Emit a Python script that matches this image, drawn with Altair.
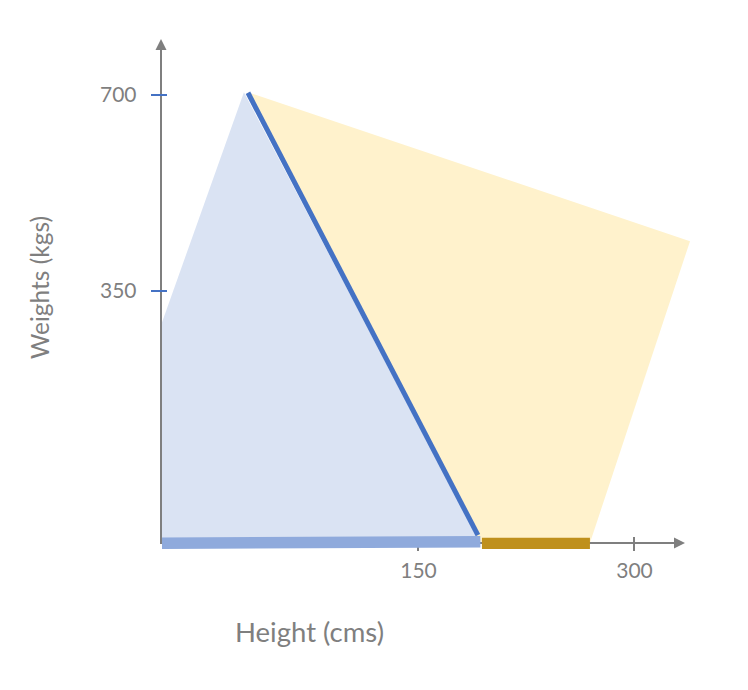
import altair as alt
import pandas as pd

# ---- data ----
x_ticks = [150, 300]
y_ticks = [350, 700]

blue_poly_x = [-28.5, -28.5, 29.1, 192.3, -28.5]
blue_poly_y = [-100, 289, 705, -95, -100]
yellow_poly_x = [31.9, 338.9, 269.4, 193.7, 31.9]
yellow_poly_y = [705, 439, -100, -100, 705]
diag_x = [31.9, 191.6]
diag_y = [704, -86]
blue_bar_x = [-27.8, 193.3]
blue_bar_y = [-100.5, -97.7]
gold_bar_x = [194.4, 269.4]
gold_bar_y = [-100.5, -100.5]

X_DOMAIN = [-28.5, 338.9]
Y_DOMAIN = [-100, 800]
W, H = 529, 504

GRAY = "#7F7F7F"
FONT = "Lato"

xs = alt.Scale(domain=X_DOMAIN, nice=False, zero=False)
ys = alt.Scale(domain=Y_DOMAIN, nice=False, zero=False)

x_axis = alt.Axis(values=x_ticks, title="Height (cms)", labelPadding=17,
                  titleX=148, titleY=90, titleBaseline="middle", titleAlign="center",
                  titleFontSize=27.5)
y_axis = alt.Axis(values=y_ticks, title="Weights (kgs)", labelPadding=25,
                  titleX=-120, titleY=248, titleBaseline="middle", titleAlign="center",
                  titleAngle=270, titleFontSize=24.5)


def xenc():
    return alt.X("x:Q", scale=xs, axis=x_axis)


def yenc():
    return alt.Y("y:Q", scale=ys, axis=y_axis)


def path_layer(xv, yv, **mark):
    df = pd.DataFrame({"i": list(range(len(xv))), "x": xv, "y": yv})
    return alt.Chart(df).mark_line(**mark).encode(x=xenc(), y=yenc(), order="i:Q")


dummy = pd.DataFrame({"a": [0]})

blue_poly = path_layer(blue_poly_x, blue_poly_y, fill="#DAE3F3", stroke="#DAE3F3",
                       strokeOpacity=0, fillOpacity=1)
yellow_poly = path_layer(yellow_poly_x, yellow_poly_y, fill="#FFF2CC", stroke="#FFF2CC",
                         strokeOpacity=0, fillOpacity=1)

y_axis_line = alt.Chart(dummy).mark_rule(color=GRAY, strokeWidth=2).encode(
    x=alt.value(0), y=alt.value(11), y2=alt.value(H + 1))
x_axis_line = alt.Chart(dummy).mark_rule(color=GRAY, strokeWidth=2).encode(
    x=alt.value(0), x2=alt.value(513), y=alt.value(H))

up_arrow = alt.Chart(dummy).mark_point(shape="M0,0L-1,2L1,2Z", size=121, filled=True,
                                       fill=GRAY, strokeWidth=0, opacity=1).encode(
    x=alt.value(0), y=alt.value(0))
right_arrow = alt.Chart(dummy).mark_point(shape="M0,0L-2,-1L-2,1Z", size=121, filled=True,
                                          fill=GRAY, strokeWidth=0, opacity=1).encode(
    x=alt.value(524), y=alt.value(H))

y_tick_marks = alt.Chart(pd.DataFrame({"y": y_ticks})).mark_rule(
    color="#4472C4", strokeWidth=2).encode(y=yenc(), x=alt.value(-10), x2=alt.value(6))
x_tick_marks = alt.Chart(pd.DataFrame({"x": x_ticks})).mark_rule(
    color=GRAY, strokeWidth=2).encode(x=xenc(), y=alt.value(H - 6), y2=alt.value(H + 8))

diag = path_layer(diag_x, diag_y, color="#4472C4", strokeWidth=5)
blue_bar = path_layer(blue_bar_x, blue_bar_y, color="#8FAADC", strokeWidth=11.5)
gold_bar = path_layer(gold_bar_x, gold_bar_y, color="#BF901C", strokeWidth=11.3)

chart = alt.layer(
    blue_poly, yellow_poly, y_axis_line, x_axis_line, up_arrow, right_arrow,
    y_tick_marks, x_tick_marks, diag, blue_bar, gold_bar
).properties(
    width=W, height=H,
    autosize=alt.AutoSizeParams(type="none"),
    padding={"left": 153, "top": 31, "right": 50, "bottom": 139},
).configure_axis(
    grid=False, domain=False, ticks=False,
    labelFont=FONT, labelFontSize=21, labelColor=GRAY,
    titleFont=FONT, titleColor=GRAY, titleFontWeight="normal",
).configure_view(strokeWidth=0)

chart.save("out.html", embed_options={"renderer": "svg", "actions": False})
